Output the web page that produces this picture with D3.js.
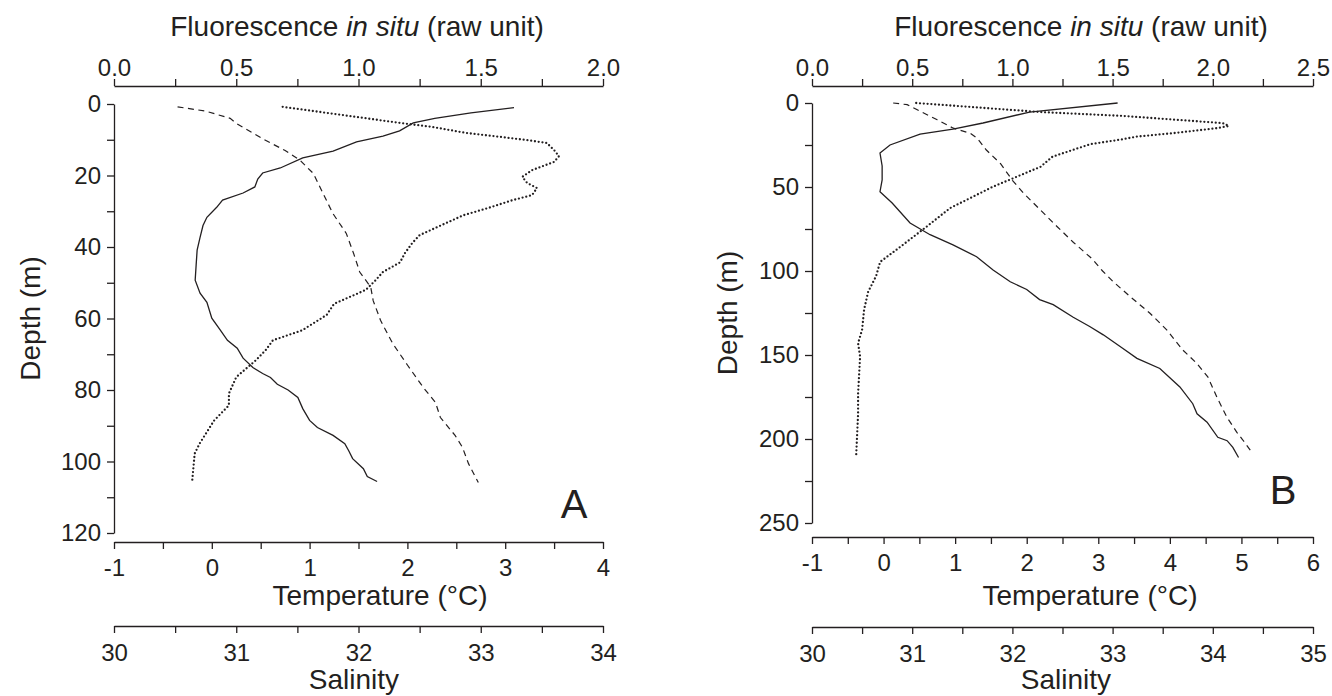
<!DOCTYPE html>
<html>
<head>
<meta charset="utf-8">
<script src="https://cdn.jsdelivr.net/npm/d3@7"></script>
<style>
  body { margin: 0; background: #fff; }
  svg text { font-family: "Liberation Sans", Arial, sans-serif; fill: #231f20; }
</style>
</head>
<body>
<div id="chart"></div>
<script>
//profiles, each point is [depth (m), value]
//panel A
const tempA = [[1, 3.09], [2.5, 2.65], [4, 2.28], [5.3, 2.06], [7.5, 1.92], [9, 1.75], [10.6, 1.48], [13.2, 1.24], [15.1, 0.93], [17.9, 0.7], [19.3, 0.52], [21, 0.47], [23.2, 0.44], [24.9, 0.32], [26.9, 0.11], [28.9, 0.05], [31.7, -0.05], [34, -0.09], [37.3, -0.12], [40.9, -0.15], [45, -0.16], [49.3, -0.17], [52.9, -0.12], [55.5, -0.05], [59.9, 0], [63, 0.08], [66.1, 0.16], [68.3, 0.26], [71.1, 0.32], [73.7, 0.42], [75.4, 0.52], [76.5, 0.6], [78.4, 0.67], [80, 0.78], [82.1, 0.88], [85.2, 0.93], [88.5, 1], [90.5, 1.08], [92.7, 1.24], [95, 1.36], [97, 1.4], [99.2, 1.44], [102, 1.55], [104.2, 1.59], [105.6, 1.69]];
const salA = [[0.8, 30.52], [2, 30.75], [4, 30.95], [5.4, 31], [8, 31.13], [10, 31.23], [13, 31.4], [15.7, 31.52], [19.4, 31.63], [25, 31.71], [30.6, 31.79], [36.2, 31.9], [41.8, 31.96], [47, 32.01], [51.2, 32.1], [55, 32.12], [60.5, 32.18], [67, 32.28], [73, 32.4], [79.3, 32.53], [83.5, 32.63], [87.7, 32.67], [92.7, 32.79], [96, 32.85], [100.6, 32.9], [105.9, 32.98]];
const fluoA = [[0.8, 0.69], [5.3, 1.17], [6.4, 1.3], [8.1, 1.44], [9.2, 1.58], [10.1, 1.69], [10.9, 1.77], [12.9, 1.8], [14.6, 1.82], [16.2, 1.8], [18.5, 1.71], [20.4, 1.67], [22.1, 1.69], [23.5, 1.73], [25.5, 1.71], [26.9, 1.63], [28.9, 1.54], [31.1, 1.43], [34.5, 1.32], [36.7, 1.25], [38.9, 1.22], [41.7, 1.19], [44.3, 1.17], [47, 1.1], [49.3, 1.07], [52, 1.03], [55.9, 0.9], [59, 0.87], [63.3, 0.77], [66.1, 0.65], [68.9, 0.62], [71.7, 0.58], [76.4, 0.5], [81, 0.47], [84.3, 0.47], [88.5, 0.41], [95, 0.35], [97.8, 0.33], [105.3, 0.32]];

//panel B
const tempB = [[0, 3.27], [5.4, 2.04], [11.9, 1.39], [15.5, 0.97], [18.5, 0.51], [25, 0.09], [29.8, -0.05], [37.5, -0.02], [45.8, -0.02], [52.8, -0.05], [59.5, 0.12], [71.4, 0.37], [78.4, 0.65], [84.5, 0.97], [91.5, 1.3], [99.4, 1.53], [106.4, 1.77], [111, 2], [117, 2.18], [120, 2.37], [127.5, 2.65], [133, 2.88], [138, 3.07], [146, 3.34], [152, 3.54], [158, 3.86], [169, 4.14], [179, 4.32], [185, 4.38], [190, 4.52], [199, 4.67], [201, 4.8], [205, 4.88], [211, 4.96]];
const salB = [[0, 30.81], [1, 30.95], [10, 31.25], [15, 31.41], [18, 31.58], [21, 31.65], [28, 31.74], [36, 31.88], [46, 32], [53.6, 32.11], [63.7, 32.28], [73.8, 32.45], [83, 32.61], [93, 32.8], [100, 32.9], [106, 33], [115, 33.17], [125, 33.37], [135, 33.54], [147, 33.7], [155, 33.84], [163, 33.95], [175, 34.04], [187, 34.14], [196, 34.24], [200.6, 34.3], [208, 34.39]];
const fluoB = [[0, 0.52], [5.4, 1.14], [7.7, 1.55], [10.7, 1.9], [12, 2.05], [13.7, 2.08], [15, 2.02], [18, 1.8], [20, 1.62], [21.6, 1.55], [24.5, 1.39], [28, 1.3], [32, 1.2], [38, 1.14], [43, 1.04], [50, 0.9], [56, 0.8], [62.5, 0.69], [73.8, 0.57], [85.7, 0.44], [94.6, 0.34], [103, 0.32], [112.5, 0.28], [123, 0.26], [135, 0.25], [143, 0.23], [151, 0.24], [173, 0.23], [185, 0.23], [211, 0.22]];

//tick labels
const fluoTicksA = [0, 0.5, 1, 1.5, 2];
const tempTicksA = [-1, 0, 1, 2, 3, 4];
const salTicksA = [30, 31, 32, 33, 34];
const depthTicksA = [0, 20, 40, 60, 80, 100, 120];

const fluoTicksB = [0, 0.5, 1, 1.5, 2, 2.5];
const tempTicksB = [-1, 0, 1, 2, 3, 4, 5, 6];
const salTicksB = [30, 31, 32, 33, 34, 35];
const depthTicksB = [0, 50, 100, 150, 200, 250];

const width = 1332;
const height = 696;
const ink = "#231f20";
const tickLen = 7;
const tickFont = 24;
const titleFont = 28;

const svg = d3
    .select("#chart")
    .append("svg")
    .attr("width", width)
    .attr("height", height);

//major ticks plus one minor tick between each pair
function withMinor(ticks) {
    const out = [];
    ticks.forEach((t, i) => {
        out.push(t);
        if (i < ticks.length - 1) out.push((t + ticks[i + 1]) / 2);
    });
    return out;
}

function drawAxis(g, axis, ticks, fmt, padding, transform) {
    const major = new Set(ticks);
    axis
        .tickValues(withMinor(ticks))
        .tickFormat((d) => (major.has(d) ? fmt(d) : ""))
        .tickSize(tickLen)
        .tickSizeOuter(0)
        .tickPadding(padding);

    const a = g.append("g").attr("transform", transform).call(axis);
    a.attr("font-size", tickFont).attr("font-family", null);
    a.select(".domain").attr("stroke", ink).attr("stroke-width", 1.3);
    a.selectAll(".tick line").attr("stroke", ink).attr("stroke-width", 1.3);
    a.selectAll(".tick text").attr("fill", ink);
    return a;
}

function drawPanel(p) {
    const g = svg.append("g");

    const xF = d3.scaleLinear().domain(d3.extent(p.fluoTicks)).range([p.x0, p.x1]);
    const xT = d3.scaleLinear().domain(d3.extent(p.tempTicks)).range([p.x0, p.x1]);
    const xS = d3.scaleLinear().domain(d3.extent(p.salTicks)).range([p.x0, p.x1]);
    const y = d3.scaleLinear().domain(d3.extent(p.depthTicks)).range([p.y0, p.y1]);

    //axes
    drawAxis(g, d3.axisTop(xF), p.fluoTicks, d3.format(".1f"), 3, `translate(0,${p.fluoY})`);
    drawAxis(g, d3.axisLeft(y), p.depthTicks, String, 6, `translate(${p.x0},0)`);
    drawAxis(g, d3.axisBottom(xT), p.tempTicks, String, 10, `translate(0,${p.tempY})`);
    drawAxis(g, d3.axisBottom(xS), p.salTicks, String, 11, `translate(0,${p.salY})`);

    //axis titles
    const title = g.append("text")
        .attr("x", p.fluoTitleX)
        .attr("y", 36)
        .attr("text-anchor", "middle")
        .attr("font-size", titleFont);
    title.append("tspan").text("Fluorescence ");
    title.append("tspan").attr("font-style", "italic").text("in situ");
    title.append("tspan").text(" (raw unit)");

    g.append("text")
        .attr("x", p.tempTitleX)
        .attr("y", 605)
        .attr("text-anchor", "middle")
        .attr("font-size", titleFont)
        .text("Temperature (°C)");

    g.append("text")
        .attr("x", p.salTitleX)
        .attr("y", 689)
        .attr("text-anchor", "middle")
        .attr("font-size", titleFont)
        .text("Salinity");

    g.append("text")
        .attr("transform", `translate(${p.depthTitleX},${(p.y0 + p.y1) / 2}) rotate(-90)`)
        .attr("text-anchor", "middle")
        .attr("dy", "0.35em")
        .attr("font-size", titleFont)
        .text("Depth (m)");

    //panel letter
    g.append("text")
        .attr("x", p.letterX)
        .attr("y", p.letterY)
        .attr("text-anchor", "middle")
        .attr("font-size", 40)
        .text(p.letter);

    //profiles
    const line = (xs) => d3.line().x((d) => xs(d[1])).y((d) => y(d[0]));

    g.append("path")
        .datum(p.temp)
        .attr("fill", "none")
        .attr("stroke", ink)
        .attr("stroke-width", 1.3)
        .attr("d", line(xT));

    g.append("path")
        .datum(p.sal)
        .attr("fill", "none")
        .attr("stroke", ink)
        .attr("stroke-width", 1.2)
        .attr("stroke-dasharray", "6,4.5")
        .attr("d", line(xS));

    g.append("path")
        .datum(p.fluo)
        .attr("fill", "none")
        .attr("stroke", ink)
        .attr("stroke-width", 2.3)
        .attr("stroke-linecap", "round")
        .attr("stroke-dasharray", "0,3.8")
        .attr("d", line(xF));
}

drawPanel({
    x0: 114, x1: 603, y0: 104, y1: 533,
    fluoY: 86, tempY: 542, salY: 626,
    fluoTicks: fluoTicksA, tempTicks: tempTicksA, salTicks: salTicksA, depthTicks: depthTicksA,
    temp: tempA, sal: salA, fluo: fluoA,
    fluoTitleX: 357, tempTitleX: 380, salTitleX: 354, depthTitleX: 30,
    letter: "A", letterX: 574, letterY: 518,
});

drawPanel({
    x0: 812, x1: 1313, y0: 103, y1: 523,
    fluoY: 86, tempY: 537, salY: 627,
    fluoTicks: fluoTicksB, tempTicks: tempTicksB, salTicks: salTicksB, depthTicks: depthTicksB,
    temp: tempB, sal: salB, fluo: fluoB,
    fluoTitleX: 1081, tempTitleX: 1090, salTitleX: 1066, depthTitleX: 727,
    letter: "B", letterX: 1283, letterY: 504,
});
</script>
</body>
</html>
